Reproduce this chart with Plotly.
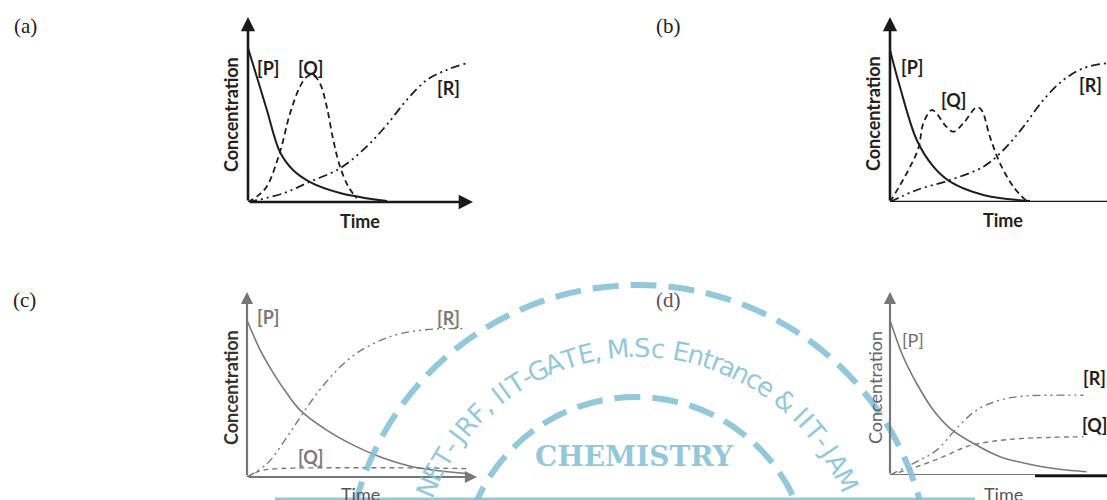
import math
import plotly.graph_objects as go

W, H = 1107, 500

# ---------------- data (time, concentration) ----------------
a_P_t = [0, 0.53, 0.84, 1.42, 2.0, 2.76, 4.09, 6.18]
a_P_c = [8.32, 6.22, 4.97, 2.70, 1.73, 1.08, 0.49, 0.05]
a_Q_t = [0, 0.4, 0.83, 1.42, 1.87, 2.31, 2.61, 2.89, 3.2, 3.5, 3.79, 4.09, 4.46, 4.83]
a_Q_c = [0, 0.3, 0.83, 2.7, 4.8, 6.23, 6.77, 6.86, 6.41, 5.15, 3.35, 1.91, 0.83, 0.2]
a_R_t = [0, 1.57, 2.76, 4.09, 5.27, 6.16, 7.05, 7.94, 8.83, 9.72]
a_R_c = [0, 0.47, 1.1, 1.82, 2.99, 4.16, 5.51, 6.59, 7.14, 7.5]

b_P_t = [0, 0.44, 1.19, 1.93, 2.67, 4.15, 6.22]
b_P_c = [8.22, 6.23, 3.35, 1.91, 1.1, 0.38, 0.05]
b_Q_t = [0, 0.74, 1.26, 1.48, 1.85, 2.07, 2.44, 2.81, 3.26, 3.85, 4.07, 4.44, 4.89, 5.48, 6.07]
b_Q_c = [0, 1.55, 2.9, 4.25, 4.97, 4.79, 4.16, 3.8, 4.25, 5.12, 4.97, 3.53, 2.09, 0.83, 0.05]
b_R_t = [0, 1.19, 2.67, 4.15, 5.04, 5.93, 6.81, 7.7, 8.59, 9.63]
b_R_c = [0, 0.65, 1.19, 1.91, 2.81, 4.07, 5.51, 6.59, 7.23, 7.5]

c_P_t = [0, 0.58, 1.16, 1.74, 2.32, 3.48, 4.64, 5.8, 7.25, 8.84, 9.57]
c_P_c = [8.47, 6.85, 5.59, 4.51, 3.6, 2.52, 1.71, 1.08, 0.54, 0.27, 0.18]
c_Q_t = [0, 0.5, 1, 2, 4, 6, 8, 9.6]
c_Q_c = [0, 0.3, 0.42, 0.48, 0.5, 0.5, 0.48, 0.45]
c_R_t = [0, 0.87, 1.74, 2.32, 3.04, 3.77, 4.64, 5.65, 6.67, 7.83, 8.7, 9.57]
c_R_c = [0, 0.72, 2.16, 3.24, 4.51, 5.59, 6.58, 7.3, 7.75, 7.97, 8.02, 8.02]

d_P_t = [0, 0.58, 1.16, 1.88, 2.61, 3.62, 4.78, 6.23, 7.68, 8.55]
d_P_c = [8.46, 6.45, 5.0, 3.55, 2.55, 1.73, 1.0, 0.55, 0.27, 0.18]
d_Q_t = [0, 1.16, 2.32, 3.33, 4.35, 5.8, 8.41]
d_Q_c = [0, 0.45, 1.0, 1.55, 1.82, 2.0, 2.09]
d_R_t = [0, 1.16, 2.03, 2.9, 3.77, 4.78, 5.8, 6.96, 8.41]
d_R_c = [0, 0.73, 1.36, 2.55, 3.55, 4.09, 4.31, 4.36, 4.36]

panel_labels = ["(a)", "(b)", "(c)", "(d)"]
species = ["[P]", "[Q]", "[R]"]
x_title = "Time"
y_title = "Concentration"
wm_arc_text = "NET-JRF, IIT-GATE, M.Sc Entrance & IIT-JAM"
wm_center_text = "CHEMISTRY"


def px(x):
    return x / W


def py(y):
    return 1 - y / H


# panel geometry in pixels: origin (x0, y0), top of y axis y1, right of x axis x1
panels = [
    dict(x0=248, x1=473, y0=202, y1=17, xr=10),
    dict(x0=890, x1=1107, y0=202, y1=17, xr=(1107 - 890) / 22.5),
    dict(x0=247, x1=477, y0=477, y1=292, xr=10),
    dict(x0=890, x1=1107, y0=475, y1=292, xr=(1107 - 890) / 23),
]

fig = go.Figure()

DARK = "#1e1e1e"
GRAY = "#7a7a7a"
Q_DASH = "6px,4px"
R_DASH = "9px,4px,2px,4px,2px,4px"

series = [
    [(a_P_t, a_P_c, "solid"), (a_Q_t, a_Q_c, Q_DASH), (a_R_t, a_R_c, R_DASH)],
    [(b_P_t, b_P_c, "solid"), (b_Q_t, b_Q_c, Q_DASH), (b_R_t, b_R_c, R_DASH)],
    [(c_P_t, c_P_c, "solid"), (c_Q_t, c_Q_c, "5px,4px"), (c_R_t, c_R_c, "8px,4px,2px,4px,2px,4px")],
    [(d_P_t, d_P_c, "solid"), (d_Q_t, d_Q_c, "5px,4px"), (d_R_t, d_R_c, "8px,4px,2px,4px,2px,4px")],
]

for i, ser in enumerate(series):
    sfx = "" if i == 0 else str(i + 1)
    col = DARK if i < 2 else GRAY
    lw = 2.0 if i < 2 else 1.6
    for (t, c, dash) in ser:
        fig.add_trace(go.Scatter(
            x=t, y=c, mode="lines", xaxis="x" + sfx, yaxis="y" + sfx,
            line=dict(color=col, width=lw if dash == "solid" else lw - 0.2, dash=dash,
                      shape="spline", smoothing=1.0),
            showlegend=False, hoverinfo="skip"))

layout_axes = {}
for i, p in enumerate(panels):
    sfx = "" if i == 0 else str(i + 1)
    layout_axes["xaxis" + sfx] = dict(domain=[px(p["x0"]), px(p["x1"])], range=[0, p["xr"]],
                                     visible=False, anchor="y" + sfx, fixedrange=True)
    layout_axes["yaxis" + sfx] = dict(domain=[py(p["y0"]), py(p["y1"])], range=[0, 10],
                                     visible=False, anchor="x" + sfx, fixedrange=True)

annotations = []
shapes = []

# axes with arrows
for i, p in enumerate(panels):
    sfx = "" if i == 0 else str(i + 1)
    col = "#1a1a1a" if i < 2 else "#777777"
    aw = 2.6 if i < 2 else 2.2
    annotations.append(dict(x=0, y=10, ax=0, ay=0, xref="x" + sfx, yref="y" + sfx,
                            axref="x" + sfx, ayref="y" + sfx, text="", showarrow=True,
                            arrowhead=2, arrowsize=1.1, arrowwidth=aw, arrowcolor=col,
                            standoff=0, startstandoff=0))
    if i in (0, 2):
        annotations.append(dict(x=p["xr"], y=0, ax=0, ay=0, xref="x" + sfx, yref="y" + sfx,
                                axref="x" + sfx, ayref="y" + sfx, text="", showarrow=True,
                                arrowhead=2, arrowsize=1.1, arrowwidth=aw, arrowcolor=col,
                                standoff=0, startstandoff=0))
    else:
        shapes.append(dict(type="line", xref="x" + sfx, yref="y" + sfx, x0=0, x1=p["xr"],
                           y0=0, y1=0, line=dict(color=col, width=aw)))

# dark segment on (d) x axis
shapes.append(dict(type="line", xref="paper", yref="paper", x0=px(1035), x1=px(1107),
                   y0=py(476), y1=py(476), line=dict(color="#111111", width=2.4)))

SANS = "Lato, 'Open Sans', sans-serif"
SERIF = "'Liberation Serif', 'Times New Roman', serif"


def txt(x, y, s, size, color, bold=False, angle=0, family=SANS, xa="center", ya="middle"):
    annotations.append(dict(x=px(x), y=py(y), xref="paper", yref="paper", text=s,
                            showarrow=False, textangle=angle, xanchor=xa, yanchor=ya,
                            font=dict(family=family, size=size, color=color,
                                      weight="bold" if bold else "normal")))


# panel labels
txt(25, 26, panel_labels[0], 21, "#222222", family=SERIF)
txt(668, 26, panel_labels[1], 21, "#222222", family=SERIF)
txt(24, 300, panel_labels[2], 21, "#222222", family=SERIF)
txt(668, 300, panel_labels[3], 21, "#555555", family=SERIF)

# axis titles
txt(231, 115, y_title, 18, "#222222", bold=True, angle=-90)
txt(873, 114, y_title, 18, "#222222", bold=True, angle=-90)
txt(231, 388, y_title, 18, "#333333", bold=True, angle=-90)
txt(875, 388, y_title, 18, "#666666", bold=False, angle=-90)
txt(360, 221, x_title, 18, "#222222", bold=True)
txt(1003, 220, x_title, 18, "#222222", bold=True)
txt(360, 494, x_title, 18, "#555555")
txt(1003, 494, x_title, 18, "#555555")

# species labels
LS = 18
txt(268, 68, species[0], LS, "#1e1e1e", bold=True)
txt(310, 68, species[1], LS, "#1e1e1e", bold=True)
txt(448, 88, species[2], LS, "#1e1e1e", bold=True)
txt(912, 67, species[0], LS, "#1e1e1e", bold=True)
txt(953, 100, species[1], LS, "#1e1e1e", bold=True)
txt(1090, 85, species[2], LS, "#1e1e1e", bold=True)
txt(268, 317, species[0], LS, "#7a7a7a", bold=True)
txt(448, 318, species[2], LS, "#7a7a7a", bold=True)
txt(310, 457, species[1], LS, "#7a7a7a", bold=True)
txt(913, 340, species[0], LS, "#6e6e6e")
txt(1094, 378, species[2], LS, "#1e1e1e", bold=True)
txt(1094, 425, species[1], LS, "#1e1e1e", bold=True)

# ---------------- watermark ----------------
WM = "rgba(128,190,212,0.85)"
for (cx, cy, r) in [(638, 577, 292), (636, 571, 174)]:
    shapes.append(dict(type="circle", xref="paper", yref="paper", layer="above",
                       x0=px(cx - r), x1=px(cx + r), y0=py(cy + r), y1=py(cy - r),
                       line=dict(color=WM, width=6, dash="26px,12px")))
shapes.append(dict(type="line", xref="paper", yref="paper", layer="above",
                   x0=px(275), x1=px(975), y0=py(499), y1=py(499),
                   line=dict(color=WM, width=3)))

widths = {" ": 0.45, ",": 0.4, ".": 0.4, "-": 0.6, "I": 0.5, "J": 0.8, "M": 1.2, "&": 1.1,
          "t": 0.6, "r": 0.6}
ws = [widths.get(ch, 0.85 if ch.islower() else 1.0) for ch in wm_arc_text]
centers = []
acc = 0
for w_ in ws:
    centers.append(acc + w_ / 2)
    acc += w_
a_start, a_end = 157.0, 25.0
cxw, cyw, rw = 638, 577, 229
for ch, cpos in zip(wm_arc_text, centers):
    if ch == " ":
        continue
    f = (cpos - centers[0]) / (centers[-1] - centers[0])
    ang = a_start + (a_end - a_start) * f
    xx = cxw + rw * math.cos(math.radians(ang))
    yy = cyw - rw * math.sin(math.radians(ang))
    annotations.append(dict(x=px(xx), y=py(yy), xref="paper", yref="paper", text=ch,
                            showarrow=False, textangle=90 - ang, xanchor="center",
                            yanchor="middle",
                            font=dict(family="'DejaVu Sans', sans-serif",
                                      size=26, color=WM)))

txt(634, 456, wm_center_text, 28, WM, bold=True, family="'DejaVu Serif', serif")

fig.update_layout(
    width=W, height=H, margin=dict(l=0, r=0, t=0, b=0),
    paper_bgcolor="white", plot_bgcolor="rgba(0,0,0,0)",
    annotations=annotations, shapes=shapes, showlegend=False,
    **layout_axes)

fig.write_html("out.html", config={"displayModeBar": False},
               post_script="document.body.style.margin='0';document.body.style.padding='0';")
